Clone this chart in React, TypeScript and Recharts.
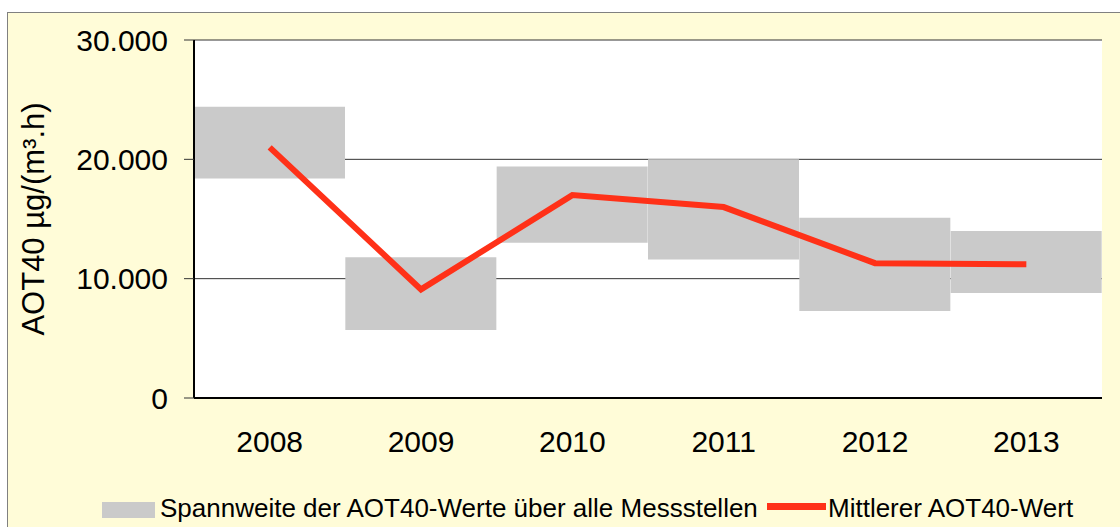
import {
  ComposedChart,
  Bar,
  Line,
  XAxis,
  YAxis,
  CartesianGrid,
  Legend,
} from "recharts";

const years = ["2008", "2009", "2010", "2011", "2012", "2013"];
const rangeMin = [18400, 5700, 13000, 11600, 7300, 8800];
const rangeMax = [24400, 11800, 19400, 20000, 15100, 14000];
const meanValues = [21000, 9100, 17000, 16000, 11300, 11200];
const yTicks = [0, 10000, 20000, 30000];

const data = years.map((year, i) => ({
  year,
  range: [rangeMin[i], rangeMax[i]],
  mean: meanValues[i],
}));

const fmt = (v: number) => v.toLocaleString("de-DE");

const font = "Arial, 'Liberation Sans', sans-serif";

const LegendBox = () => (
  <div style={{ position: "relative", height: 30, width: 1120, fontFamily: font, fontSize: 26, lineHeight: "26px", color: "#000" }}>
    <div style={{ position: "absolute", left: 102, top: 5, width: 53, height: 16, background: "#cacaca" }} />
    <span style={{ position: "absolute", left: 160, top: -2, whiteSpace: "nowrap" }}>
      Spannweite der AOT40-Werte über alle Messstellen
    </span>
    <div style={{ position: "absolute", left: 767, top: 6, width: 59, height: 7, background: "#ff3118" }} />
    <span style={{ position: "absolute", left: 828, top: -2, whiteSpace: "nowrap" }}>
      Mittlerer AOT40-Wert
    </span>
  </div>
);

export default function App() {
  return (
    <div style={{ position: "absolute", left: 0, top: 0, width: 1120, height: 527, background: "#fff", overflow: "hidden" }}>
      <div
        style={{
          position: "absolute",
          left: 7,
          top: 12,
          width: 1130,
          height: 530,
          background: "#fffcd8",
          border: "1px solid #808080",
        }}
      />
      <div style={{ position: "absolute", left: 0, top: 0 }}>
        <ComposedChart
          width={1120}
          height={527}
          data={data}
          margin={{ top: 40, right: 18, left: 0, bottom: 0 }}
          barCategoryGap={0}
          style={{ fontFamily: font }}
        >
          <CartesianGrid vertical={false} stroke="#333" fill="#fff" />
          <XAxis
            dataKey="year"
            height={99}
            tickLine={false}
            tickSize={0}
            tickMargin={33}
            axisLine={{ stroke: "#000", strokeWidth: 2 }}
            tick={{ fontSize: 30, fill: "#000" }}
          />
          <XAxis xAxisId="top" dataKey="year" orientation="top" height={0} tick={false} tickLine={false} axisLine={{ stroke: "#000", strokeWidth: 2 }} />
          <YAxis
            width={194}
            domain={[0, 30000]}
            ticks={yTicks}
            tickFormatter={fmt}
            tickSize={10}
            tickMargin={16}
            tickLine={{ stroke: "#333" }}
            axisLine={{ stroke: "#000", strokeWidth: 2 }}
            tick={{ fontSize: 30, fill: "#000" }}
            label={{
              value: "AOT40 µg/(m³.h)",
              angle: -90,
              position: "insideLeft",
              offset: 33,
              style: { textAnchor: "middle", fontSize: 31, fill: "#000" },
            }}
          />
          <YAxis yAxisId="right" orientation="right" width={0} domain={[0, 30000]} tick={false} tickLine={false} axisLine={{ stroke: "#000", strokeWidth: 2 }} />
          <Bar dataKey="range" fill="#cacaca" isAnimationActive={false} />
          <Line
            dataKey="mean"
            stroke="#ff3118"
            strokeWidth={6}
            dot={false}
            activeDot={false}
            isAnimationActive={false}
          />
          <Legend verticalAlign="bottom" wrapperStyle={{ left: 0, bottom: 0, width: 1120 }} content={() => <LegendBox />} />
        </ComposedChart>
      </div>
    </div>
  );
}
